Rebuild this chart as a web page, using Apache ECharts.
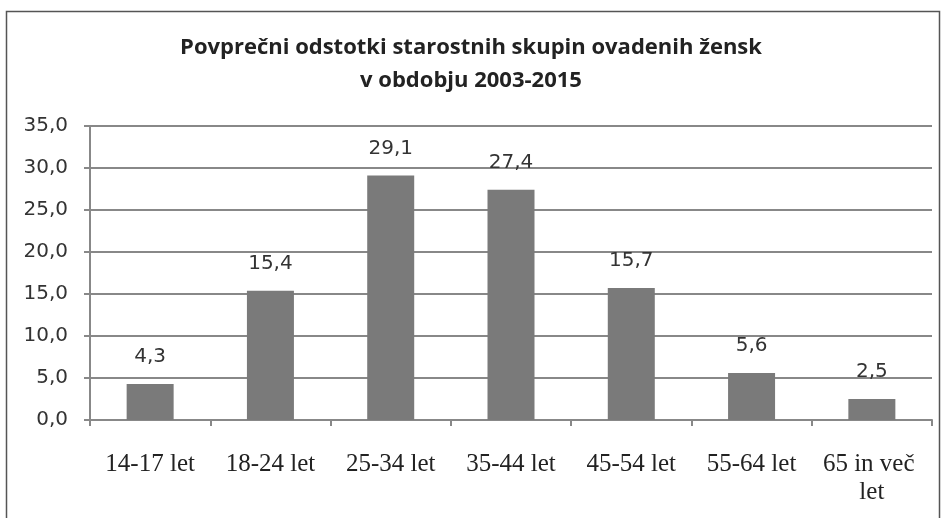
<!DOCTYPE html>
<html>
<head>
<meta charset="utf-8">
<script src="https://cdn.jsdelivr.net/npm/echarts@6/dist/echarts.min.js"></script>
<style>
  html, body { margin: 0; padding: 0; background: #fff; }
  #chart { width: 942px; height: 518px; }
</style>
</head>
<body>
<div id="chart"></div>
<script>
  // starostne skupine
  var categories = ['14-17 let', '18-24 let', '25-34 let', '35-44 let', '45-54 let', '55-64 let', '65 in več let'];
  var values = [4.3, 15.4, 29.1, 27.4, 15.7, 5.6, 2.5];
  var titleLines = ['Povprečni odstotki starostnih skupin ovadenih žensk', 'v obdobju 2003-2015'];

  var fmt = function (v) { return Number(v).toFixed(1).replace('.', ','); };

  var myChart = echarts.init(document.getElementById('chart'));
  var option = {
    backgroundColor: '#fff',
    animation: false,
    graphic: [{
      type: 'rect',
      shape: { x: 6.5, y: 11.5, width: 933, height: 520 },
      style: { fill: 'none', stroke: '#555', lineWidth: 1.5 }
    }],
    title: {
      text: titleLines.join('\n'),
      left: 'center',
      top: 26,
      textStyle: {
        fontFamily: 'Open Sans',
        fontWeight: 'bold',
        fontSize: 22,
        lineHeight: 33,
        color: '#222'
      }
    },
    grid: { left: 90, right: 10, top: 126, height: 294 },
    xAxis: {
      type: 'category',
      data: categories,
      axisLine: { lineStyle: { color: '#888', width: 2 } },
      axisTick: { show: true, length: 6, lineStyle: { color: '#888', width: 2 } },
      axisLabel: {
        margin: 30,
        width: 112,
        overflow: 'break',
        interval: 0,
        fontFamily: 'Liberation Serif',
        fontSize: 25,
        lineHeight: 28,
        color: '#222'
      }
    },
    yAxis: {
      type: 'value',
      min: 0,
      max: 35,
      interval: 5,
      axisLine: { show: true, lineStyle: { color: '#888', width: 2 } },
      axisTick: { show: true, length: 6, lineStyle: { color: '#888', width: 2 } },
      splitLine: { lineStyle: { color: '#888', width: 2 } },
      axisLabel: {
        formatter: fmt,
        margin: 22,
        fontFamily: 'DejaVu Sans',
        fontSize: 20,
        color: '#333'
      }
    },
    series: [{
      type: 'bar',
      data: values,
      barWidth: 47,
      itemStyle: { color: '#7a7a7a' },
      label: {
        show: true,
        position: 'top',
        distance: 17,
        formatter: function (p) { return fmt(p.value); },
        fontFamily: 'DejaVu Sans',
        fontSize: 20,
        color: '#333'
      }
    }]
  };
  myChart.setOption(option);
</script>
</body>
</html>
